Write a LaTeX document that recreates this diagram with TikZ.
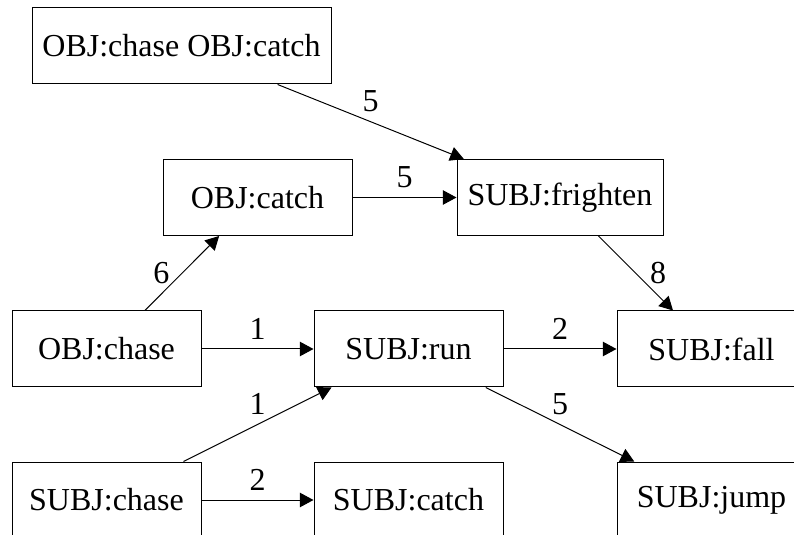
\documentclass[tikz,border=0pt]{standalone}
\usepackage{fontspec}
\setmainfont{Liberation Serif}
\usetikzlibrary{arrows.meta}
\tikzset{
  box/.style={draw, fill=white, line width=0.5pt, minimum width=94.5pt, minimum height=38pt, inner sep=2pt, font=\fontsize{16}{19}\selectfont},
  widebox/.style={box, minimum width=149.5pt},
  link/.style={line width=0.5pt, -{Triangle[length=6.8pt,width=7.2pt]}},
  wt/.style={font=\fontsize{16}{19}\selectfont, inner sep=4.5pt}
}

\begin{document}
\begin{tikzpicture}[x=0.5pt,y=-0.5pt]
  \useasboundingbox (0,0) rectangle (794,535);
  \clip (0,0) rectangle (794,535);
  \node[widebox] (oco) at (181.5,46) {OBJ:chase OBJ:catch};
  \node[box] (ocatch) at (257.5,197.5) {OBJ:catch};
  \node[box, minimum width=103pt] (sfright) at (560,197.5) {SUBJ:frighten};
  \node[box] (ochase) at (106.5,349) {OBJ:chase};
  \node[box] (srun) at (408.5,349) {SUBJ:run};
  \node[box] (sfall) at (711.5,349) {SUBJ:fall};
  \node[box] (schase) at (106.5,500) {SUBJ:chase};
  \node[box] (scatch) at (408.5,500) {SUBJ:catch};
  \node[box] (sjump) at (711.5,500) {SUBJ:jump};
  % weighted links
  \draw[link] (oco) -- node[wt,above]{5} (sfright);
  \draw[link] (ocatch) -- node[wt,above]{5} (sfright);
  \draw[link] (ochase) -- node[wt,left,inner sep=6pt]{6} (ocatch);
  \draw[link] (ochase) -- node[wt,above]{1} (srun);
  \draw[link] (schase) -- node[wt,above]{1} (srun);
  \draw[link] (srun) -- node[wt,above]{2} (sfall);
  \draw[link] (sfright) -- node[wt,right,inner sep=7pt]{8} (sfall);
  \draw[link] (srun) -- node[wt,above]{5} (sjump);
  \draw[link] (schase) -- node[wt,above]{2} (scatch);
\end{tikzpicture}
\end{document}
